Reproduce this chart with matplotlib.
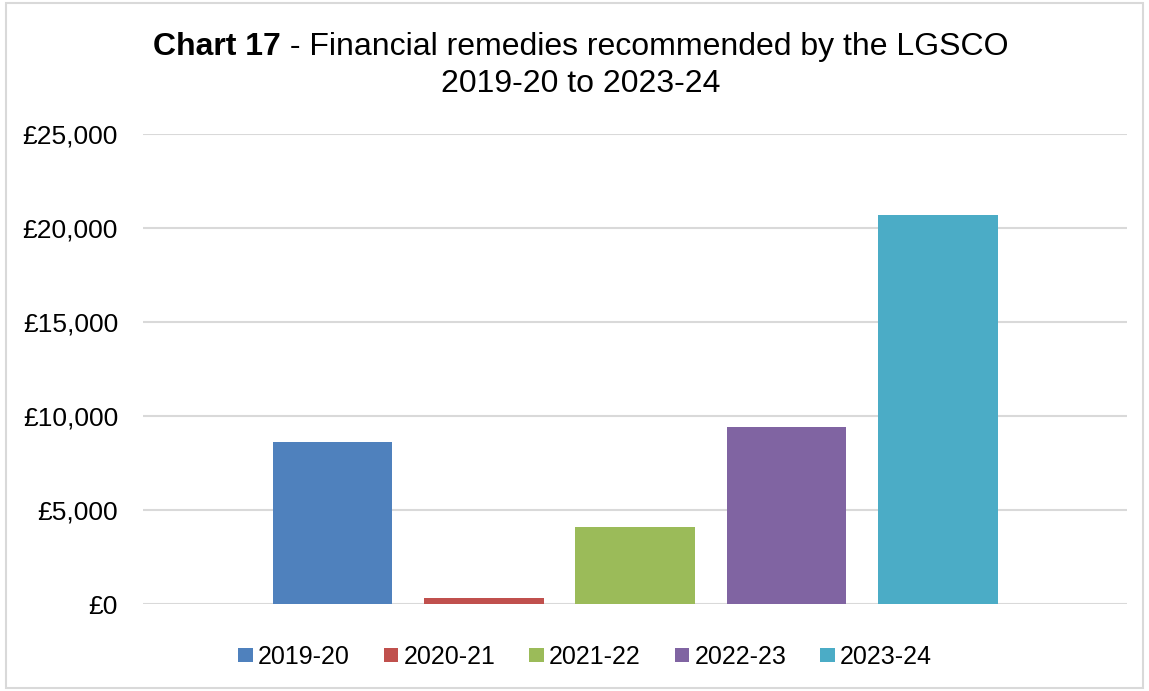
import matplotlib
matplotlib.use("Agg")
import matplotlib.pyplot as plt
from matplotlib.patches import Rectangle
from matplotlib.ticker import FuncFormatter

plt.rcParams['font.family'] = ['Liberation Sans', 'DejaVu Sans']

years = ["2019-20", "2020-21", "2021-22", "2022-23", "2023-24"]
values = [8640, 340, 4110, 9440, 20700]
colors = ["#4F81BD", "#C0504D", "#9BBB59", "#8064A2", "#4BACC6"]
yticks = [0, 5000, 10000, 15000, 20000, 25000]

fig = plt.figure(figsize=(11.49, 6.91), dpi=100)
ax = fig.add_axes([0.1245, 0.1252, 0.8566, 0.6808])

for i, (y, v, c) in enumerate(zip(years, values, colors)):
    ax.bar(i, v, width=0.79, color=c, label=y, zorder=3)

ax.set_xlim(-1.25, 5.25)
ax.set_ylim(0, 25000)
ax.set_yticks(yticks)
ax.yaxis.set_major_formatter(FuncFormatter(lambda v, p: "£{:,.0f}".format(v)))
ax.set_xticks([])
ax.grid(axis='y', color='#D9D9D9', linewidth=1.5, zorder=0)
for s in ax.spines.values():
    s.set_visible(False)
ax.tick_params(axis='y', length=0, labelsize=19, pad=18, colors='black')

# Title with mixed weights
fig.canvas.draw()
r = fig.canvas.get_renderer()
t1 = fig.text(0, 0, "Chart 17", fontsize=23, fontweight='bold', va='baseline')
t2 = fig.text(0, 0, " - Financial remedies recommended by the LGSCO", fontsize=23, va='baseline')
w1 = t1.get_window_extent(r).width
w2 = t2.get_window_extent(r).width
W = fig.bbox.width
cx = 581
start = cx - (w1 + w2) / 2
ybase = 1 - 55 / 691
t1.set_position((start / W, ybase))
t2.set_position(((start + w1) / W, ybase))
fig.text(cx / W, 1 - 92 / 691, "2019-20 to 2023-24", fontsize=23, ha='center', va='baseline')

leg = fig.legend(loc='center', bbox_to_anchor=(585 / W, 1 - 657 / 691), ncol=5,
                 frameon=False, fontsize=18, handlelength=0.59, handleheight=0.48,
                 handletextpad=0.2, columnspacing=1.36)

fig.patches.append(Rectangle((0.005, 0.005), 0.99, 0.99, transform=fig.transFigure,
                             fill=False, edgecolor='#D9D9D9', linewidth=1.5))

fig.savefig("out.png", dpi=100)
